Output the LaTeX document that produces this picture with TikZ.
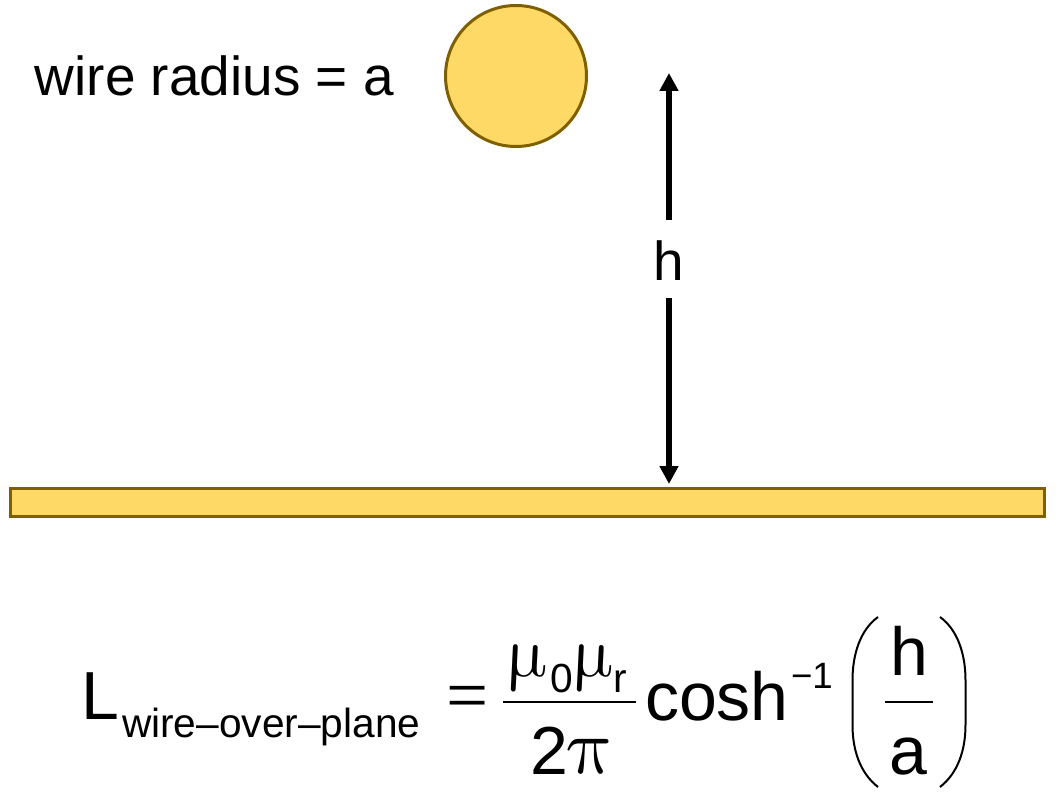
\documentclass[tikz,border=0pt]{standalone}
\usepackage{fontspec}
\setmainfont{Liberation Sans}
\newfontfamily\greekfont{Liberation Serif}
\usepackage{xcolor}
\usetikzlibrary{arrows.meta}
\definecolor{wirefill}{HTML}{FFD966}
\definecolor{wireline}{HTML}{7F6000}
\tikzset{
    x=0.75pt, y=-0.75pt,
    wire-shape/.style = {draw=wireline, fill=wirefill, line width=2.25pt},
    height-arrow/.style = {draw=black, line width=4.5pt, -{Triangle[length=13.5pt, width=13.5pt]}},
    formula-rule/.style = {draw=black, line width=1.9pt},
    formula-paren/.style = {draw=black, line width=1.5pt},
    base-text/.style = {anchor=base west, inner sep=0pt, outer sep=0pt},
    big-text/.style = {base-text, font=\fontsize{41.2}{41.2}\selectfont},
    sub-text/.style = {base-text, font=\fontsize{30.5}{30.5}\selectfont},
    sup-text/.style = {base-text, font=\fontsize{27.5}{27.5}\selectfont},
    greek-text/.style = {base-text, transform shape, xslant=-0.2, scale=5.4},
    equals-text/.style = {base-text, font=\greekfont\fontsize{56}{56}\selectfont},
    formula-text/.style = {base-text, font=\fontsize{51}{51}\selectfont},
}
\begin{document}
\begin{tikzpicture}
\useasboundingbox (0,0) rectangle (1061,802);
\node [big-text] (radius) at (35,96) {wire radius = a};
\node [wire-shape, circle, minimum size=105.75pt, inner sep=0pt] (wire) at (516,76) {};
\node [wire-shape, rectangle, minimum width=775.5pt, minimum height=21pt, inner sep=0pt] (plane) at (527.5,502.5) {};
\node [big-text, anchor=base, inner ysep=12.75pt, text height=33pt, text depth=0pt] (h) at (669,281) {h};
\coordinate (top) at (669,73);
\coordinate (bottom) at (669,484);
\draw [height-arrow] (h.north) -- (top);
\draw [height-arrow] (h.south) -- (bottom);
\node [formula-text] (L) at (81,719) {L};
\node [sub-text] (wop) at (122,737) {wire–over–plane};
\node [equals-text] (eq) at (446,720) {=};
\node [greek-text] (mu0) at (506,676) {$\mu$};
\node [sub-text] (zero) at (550,692) {0};
\node [greek-text] (mur) at (572,676) {$\mu$};
\node [sub-text] (r) at (613,692) {r};
\node [formula-text] (two) at (530,774) {2};
\node [greek-text, scale=1.1] (pi) at (570,773) {$\pi$};
\node [formula-text] (cosh) at (645,720) {cosh};
\node [sup-text] (inv) at (791,688) {−1};
\node [formula-text] (hnum) at (890,675) {h};
\node [formula-text] (adenom) at (889,774) {a};
\coordinate (rule1a) at (503,702);
\coordinate (rule1b) at (636,702);
\coordinate (rule2a) at (885,702);
\coordinate (rule2b) at (933,702);
\draw [formula-rule] (rule1a) -- (rule1b);
\draw [formula-rule] (rule2a) -- (rule2b);
\draw [formula-paren] (878,617) .. controls (860,630) and (852.5,655) .. (852.5,680) -- (852.5,725) .. controls (852.5,750) and (860,773) .. (878,787);
\draw [formula-paren] (940,617) .. controls (958,630) and (965.5,655) .. (965.5,680) -- (965.5,725) .. controls (965.5,750) and (958,773) .. (940,787);
\end{tikzpicture}
\end{document}
